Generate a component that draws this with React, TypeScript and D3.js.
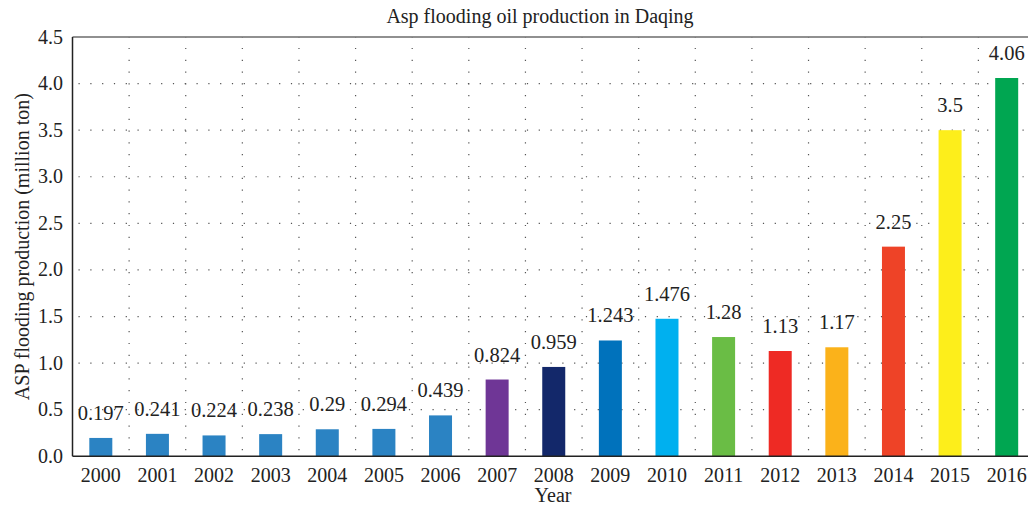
import React from "react";
import * as d3 from "d3";

const years = ["2000","2001","2002","2003","2004","2005","2006","2007","2008","2009","2010","2011","2012","2013","2014","2015","2016"];
const values = [0.197,0.241,0.224,0.238,0.29,0.294,0.439,0.824,0.959,1.243,1.476,1.28,1.13,1.17,2.25,3.5,4.06];
const labels = ["0.197","0.241","0.224","0.238","0.29","0.294","0.439","0.824","0.959","1.243","1.476","1.28","1.13","1.17","2.25","3.5","4.06"];
const colors = ["#2b83c3","#2b83c3","#2b83c3","#2b83c3","#2b83c3","#2b83c3","#2b83c3","#6f3696","#13286a","#0072bc","#00b0ef","#6abd45","#ee2a24","#fbb21a","#ee4327","#fdee1b","#00a651"];
const yTicks = [0,0.5,1,1.5,2,2.5,3,3.5,4,4.5];

const W = 1028, H = 506;
const left = 72.5, right = 1035, top = 37, bottom = 456.3;
const font = "'Liberation Serif', 'DejaVu Serif', serif";

export default function App() {
  const x = d3.scaleBand<string>().domain(years).range([left, right]).paddingInner(0).paddingOuter(0);
  const y = d3.scaleLinear().domain([0, 4.5]).range([bottom, top]);
  const bw = 23;
  const step = x.step();
  const dash = "1.2,10.6";
  return (
    <svg width={W} height={H} style={{ position: "absolute", left: 0, top: 0 }} fontFamily={font}>
      <rect x={0} y={0} width={W} height={H} fill="#fff" />
      {yTicks.slice(1, -1).map((t) => (
        <line key={"gy" + t} x1={left} x2={right} y1={y(t)} y2={y(t)} stroke="#555" strokeWidth={1.2} strokeDasharray={dash} strokeDashoffset={-6} />
      ))}
      {years.slice(1).map((yr) => (
        <line key={"gx" + yr} x1={x(yr)!} x2={x(yr)!} y1={bottom} y2={top} stroke="#555" strokeWidth={1.2} strokeDasharray={dash} strokeDashoffset={-6} />
      ))}
      {years.map((yr, i) => (
        <rect key={"b" + yr} x={x(yr)! + step / 2 - bw / 2} y={y(values[i])} width={bw} height={bottom - y(values[i])} fill={colors[i]} />
      ))}
      {years.map((yr, i) => (
        <text key={"l" + yr} x={x(yr)! + step / 2} y={y(values[i]) - 18} textAnchor="middle" fontSize={20.5} fill="#222">{labels[i]}</text>
      ))}
      <line x1={left} x2={left} y1={top} y2={bottom} stroke="#222" strokeWidth={1.5} />
      <line x1={left} x2={right} y1={bottom} y2={bottom} stroke="#222" strokeWidth={1.5} />
      <line x1={left} x2={right} y1={top} y2={top} stroke="#222" strokeWidth={1.2} />
      {yTicks.map((t) => (
        <text key={"yt" + t} x={63} y={y(t) + 6.5} textAnchor="end" fontSize={20} fill="#222">{t.toFixed(1)}</text>
      ))}
      {years.map((yr) => (
        <text key={"xt" + yr} x={x(yr)! + step / 2} y={482} textAnchor="middle" fontSize={20} fill="#222">{yr}</text>
      ))}
      <text x={540} y={23} textAnchor="middle" fontSize={20} fill="#222">Asp flooding oil production in Daqing</text>
      <text x={553} y={502} textAnchor="middle" fontSize={20} fill="#222">Year</text>
      <text transform={`translate(29, ${(top + bottom) / 2}) rotate(-90)`} textAnchor="middle" fontSize={20} fill="#222">ASP flooding production (million ton)</text>
    </svg>
  );
}
